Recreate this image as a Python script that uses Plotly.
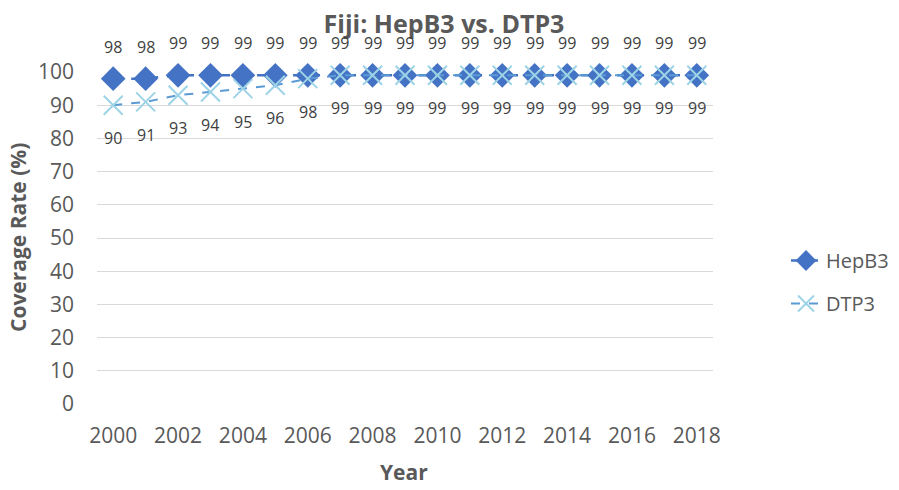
import plotly.graph_objects as go

years = list(range(2000, 2019))
hepb3 = [98, 98, 99, 99, 99, 99, 99, 99, 99, 99, 99, 99, 99, 99, 99, 99, 99, 99, 99]
dtp3 = [90, 91, 93, 94, 95, 96, 98, 99, 99, 99, 99, 99, 99, 99, 99, 99, 99, 99, 99]
tick_years = list(range(2000, 2019, 2))

FONT = "Open Sans"
TXT = "#595959"

# plot area in layout pixels (page has an 8px body margin)
L, R, T, B = 89, 705, 64, 396
W, H = 899, 490
PW, PH = R - L, B - T

fig = go.Figure()
fig.add_trace(go.Scatter(
    x=years, y=hepb3, name="HepB3", mode="lines+markers",
    line=dict(color="#4472C4", width=2.5, dash="dash"),
    marker=dict(symbol="diamond", size=19, color="#4472C4"),
    legendgroup="a", cliponaxis=False,
))
fig.add_trace(go.Scatter(
    x=years, y=dtp3, name="DTP3", mode="lines+markers",
    line=dict(color="#5B9BD5", width=2, dash="dash"),
    marker=dict(symbol="x-thin", size=19, color="#9DD3E6",
                line=dict(color="#9DD3E6", width=2)),
    legendgroup="b", cliponaxis=False,
))

annotations = []
for x, v in zip(years, hepb3):
    annotations.append(dict(x=x, y=v, text=str(v), showarrow=False, yshift=32,
                            font=dict(family=FONT, size=16, color="#404040")))
for x, v in zip(years, dtp3):
    annotations.append(dict(x=x, y=v, text=str(v), showarrow=False, yshift=-33,
                            font=dict(family=FONT, size=16, color="#404040")))
annotations.append(dict(text="<b>Coverage Rate (%)</b>", textangle=-90, xref="paper", yref="paper",
                        x=(10 - L) / PW, y=0.5, xanchor="center", yanchor="middle",
                        showarrow=False, font=dict(family=FONT, size=21, color=TXT)))
annotations.append(dict(text="<b>Year</b>", xref="paper", yref="paper",
                        x=(396 - L) / PW, y=(B - 464) / PH, xanchor="center", yanchor="middle",
                        showarrow=False, font=dict(family=FONT, size=21, color=TXT)))

fig.update_layout(
    width=W, height=H,
    margin=dict(l=L, r=W - R, t=T, b=H - B),
    paper_bgcolor="white", plot_bgcolor="white",
    font=dict(family=FONT, color=TXT),
    title=dict(text="<b>Fiji: HepB3 vs. DTP3</b>", x=436 / W, xref="container",
               y=1 - 16 / H, yref="container", xanchor="center", yanchor="middle",
               font=dict(family=FONT, size=25, color=TXT)),
    xaxis=dict(range=[1999.5, 2018.5], tickvals=tick_years, showgrid=False,
               zeroline=False, showline=False, ticks="",
               tickfont=dict(family=FONT, size=21, color=TXT), ticklabelstandoff=17),
    yaxis=dict(range=[0, 100], dtick=10, showgrid=True, gridcolor="#D9D9D9", gridwidth=1.3,
               zeroline=False, showline=False, ticks="",
               tickfont=dict(family=FONT, size=21, color=TXT), ticklabelstandoff=22),
    legend=dict(x=(778 - L) / PW, y=(B - 274) / PH, xanchor="left", yanchor="middle",
                font=dict(family=FONT, size=20, color=TXT), tracegroupgap=14,
                bgcolor="rgba(0,0,0,0)"),
    annotations=annotations,
)

fig.write_html("out.html")
